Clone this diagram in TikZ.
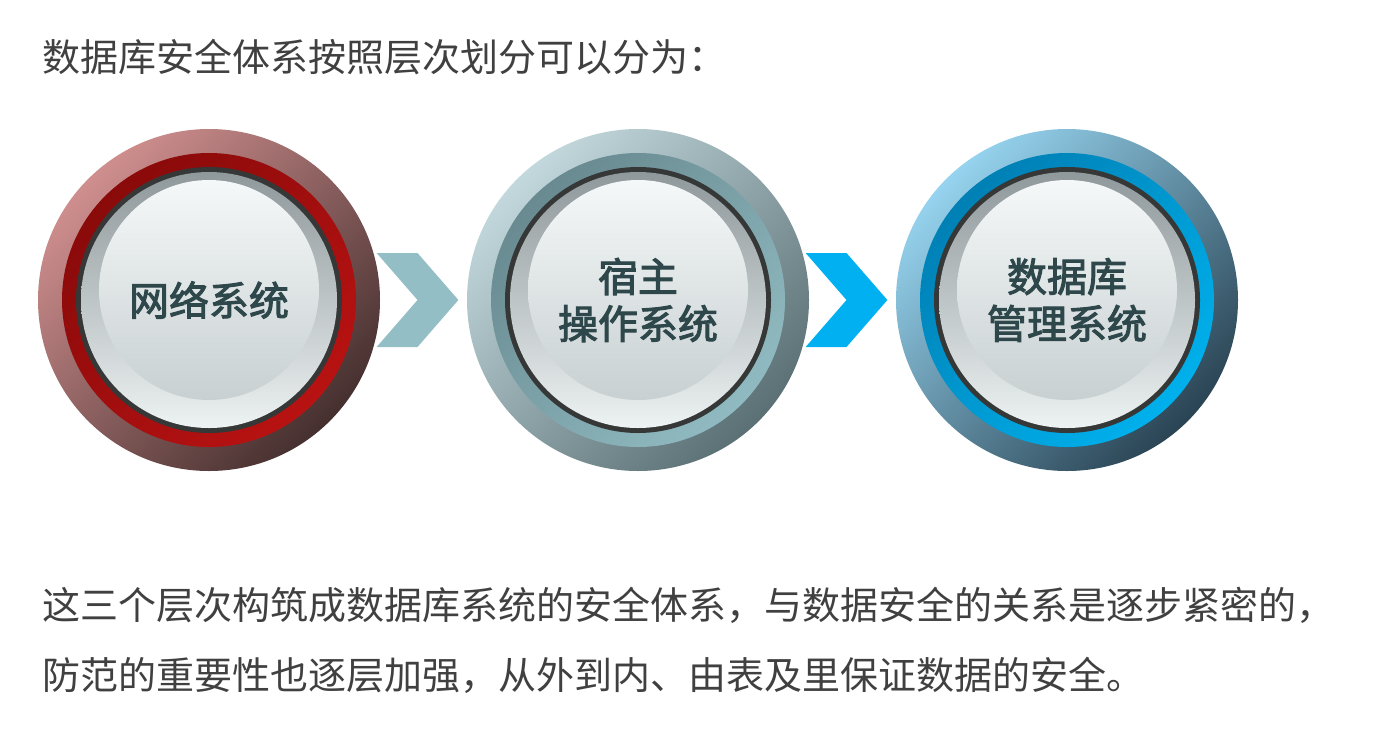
\documentclass[tikz,border=0pt]{standalone}
\usepackage{fontspec}
\newfontfamily\cjk{Noto Sans CJK SC}
\newfontfamily\cjklabel[FakeBold=2.5]{Noto Sans CJK SC}
\usetikzlibrary{shapes.symbols}

\definecolor{redhi}{HTML}{CF8E8E}
\definecolor{redmid}{HTML}{8C1E1E}
\definecolor{redlo}{HTML}{45302F}
\definecolor{redband}{HTML}{8A0A0A}
\definecolor{redbandlo}{HTML}{B81212}
\definecolor{tealhi}{HTML}{C2D8DC}
\definecolor{tealmid}{HTML}{78989E}
\definecolor{teallo}{HTML}{5B7075}
\definecolor{tealband}{HTML}{688A90}
\definecolor{tealbandlo}{HTML}{90BAC1}
\definecolor{bluehi}{HTML}{96D3EE}
\definecolor{bluemid}{HTML}{1E7FAF}
\definecolor{bluelo}{HTML}{2A4454}
\definecolor{blueband}{HTML}{0080B5}
\definecolor{bluebandlo}{HTML}{00B0EC}
\definecolor{rimgray}{HTML}{363838}
\definecolor{facetop}{HTML}{8F989B}
\definecolor{facebot}{HTML}{EDF2F2}
\definecolor{glosstop}{HTML}{F5F8F8}
\definecolor{glossbot}{HTML}{C8D0D2}
\definecolor{labelcol}{HTML}{2E474B}
\definecolor{bodytext}{HTML}{404040}
\definecolor{chevA}{HTML}{93BEC5}
\definecolor{chevB}{HTML}{00B0F0}

\begin{document}
\begin{tikzpicture}[
  x=1pt, y=-1pt,
  ring/.style={circle, inner sep=0pt, minimum size=342pt},
  band/.style={circle, inner sep=0pt, minimum size=294pt},
  tilt/.style={shading angle=45},
  rim/.style={circle, inner sep=0pt, minimum size=266pt, fill=rimgray},
  face/.style={circle, inner sep=0pt, minimum size=256pt, top color=facetop, bottom color=facebot},
  gloss/.style={circle, inner sep=0pt, minimum size=220pt, top color=glosstop, bottom color=glossbot},
  label/.style={align=center, text=labelcol, font=\cjklabel\fontsize{40}{47}\selectfont},
  chevron/.style={signal, signal from=west, signal to=east, signal pointer angle=98,
    inner sep=0pt, minimum width=79pt, minimum height=94pt},
  body/.style={anchor=west, inner sep=0pt, text=bodytext, font=\cjk\fontsize{38}{38}\selectfont}
]
\useasboundingbox (0,0) rectangle (1384,737);

\node[body] (title) at (42,57) {数据库安全体系按照层次划分可以分为：};

% network layer
\node[ring, top color=redhi, middle color=redmid, bottom color=redlo, tilt] (netring) at (209,300) {};
\node[band, top color=redband, bottom color=redbandlo, tilt] (netband) at (netring) {};
\node[rim] (netrim) at (netring) {};
\node[face] (netface) at (netring) {};
\node[gloss] (netgloss) at (209,290) {};
\node[label] (net) at (netring) {网络系统};

% host os layer
\node[ring, top color=tealhi, middle color=tealmid, bottom color=teallo, tilt] (osring) at (638,300) {};
\node[band, top color=tealband, bottom color=tealbandlo, tilt] (osband) at (osring) {};
\node[rim] (osrim) at (osring) {};
\node[face] (osface) at (osring) {};
\node[gloss] (osgloss) at (638,290) {};
\node[label] (os) at (osring) {宿主\\操作系统};

% dbms layer
\node[ring, top color=bluehi, middle color=bluemid, bottom color=bluelo, tilt] (dbring) at (1067,300) {};
\node[band, top color=blueband, bottom color=bluebandlo, tilt] (dbband) at (dbring) {};
\node[rim] (dbrim) at (dbring) {};
\node[face] (dbface) at (dbring) {};
\node[gloss] (dbgloss) at (1067,290) {};
\node[label] (db) at (dbring) {数据库\\管理系统};

\node[chevron, fill=chevA] (step1) at (417.5,300) {};
\node[chevron, fill=chevB] (step2) at (846.5,300) {};

\node[body] (line1) at (42,605) {这三个层次构筑成数据库系统的安全体系，与数据安全的关系是逐步紧密的，};
\node[body] (line2) at (42,675) {防范的重要性也逐层加强，从外到内、由表及里保证数据的安全。};
\end{tikzpicture}
\end{document}
